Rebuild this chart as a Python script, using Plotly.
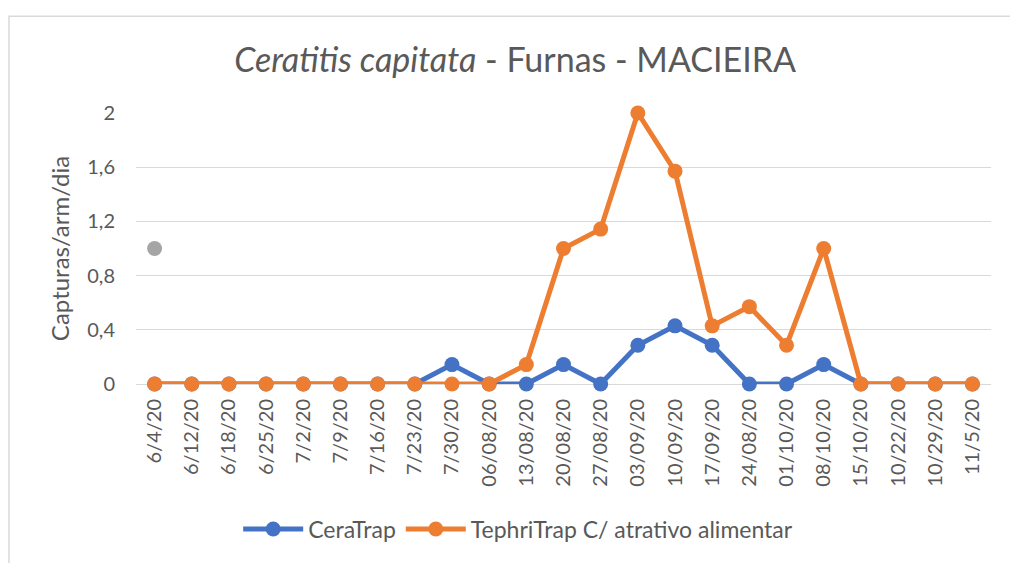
import plotly.graph_objects as go

categories = ["6/4/20", "6/12/20", "6/18/20", "6/25/20", "7/2/20", "7/9/20", "7/16/20",
              "7/23/20", "7/30/20", "06/08/20", "13/08/20", "20/08/20", "27/08/20",
              "03/09/20", "10/09/20", "17/09/20", "24/08/20", "01/10/20", "08/10/20",
              "15/10/20", "10/22/20", "10/29/20", "11/5/20"]
ceratrap = [0, 0, 0, 0, 0, 0, 0, 0, 0.143, 0, 0, 0.143, 0, 0.286, 0.429, 0.286,
            0, 0, 0.143, 0, 0, 0, 0]
tephritrap = [0, 0, 0, 0, 0, 0, 0, 0, 0, 0, 0.143, 1.0, 1.143, 2.0, 1.571, 0.429,
              0.571, 0.286, 1.0, 0, 0, 0, 0]
extra_x = ["6/4/20"]
extra_y = [1.0]
y_ticks = [0, 0.4, 0.8, 1.2, 1.6, 2]
y_tick_labels = ["0", "0,4", "0,8", "1,2", "1,6", "2"]

FONT = "Lato, 'Open Sans', sans-serif"
GREY_TXT = "#595959"

fig = go.Figure()
fig.add_trace(go.Scatter(x=categories, y=ceratrap, mode="lines+markers", name="CeraTrap",
                         line=dict(color="#4472C4", width=5),
                         marker=dict(size=15, color="#4472C4"), cliponaxis=False))
fig.add_trace(go.Scatter(x=categories, y=tephritrap, mode="lines+markers",
                         name="TephriTrap C/ atrativo alimentar",
                         line=dict(color="#ED7D31", width=5),
                         marker=dict(size=15, color="#ED7D31"), cliponaxis=False))
fig.add_trace(go.Scatter(x=extra_x, y=extra_y, mode="markers", showlegend=False,
                         marker=dict(size=15, color="#A5A5A5"), cliponaxis=False))

fig.update_layout(
    width=1010, height=563,
    margin=dict(l=136, r=19, t=113, b=174),
    paper_bgcolor="white", plot_bgcolor="white",
    font=dict(family=FONT, color=GREY_TXT),
    title=dict(text="<i>Ceratitis capitata</i> - Furnas - MACIEIRA",
               x=0.51, xanchor="center", y=0.893, yanchor="middle",
               font=dict(size=34, color=GREY_TXT, family=FONT)),
    legend=dict(orientation="h", x=0.447, xanchor="center", y=-0.535, yanchor="middle",
                font=dict(size=23, color=GREY_TXT), itemwidth=60,
                bgcolor="rgba(0,0,0,0)"),
    xaxis=dict(type="category", categoryorder="array", categoryarray=categories,
               tickangle=-90, tickfont=dict(size=20, color=GREY_TXT),
               showgrid=False, showline=False, ticks="", zeroline=False,
               ticklabelstandoff=10,
               range=[-0.5, len(categories) - 0.5]),
    yaxis=dict(range=[0, 2], tickvals=y_ticks, ticktext=y_tick_labels,
               tickfont=dict(size=20, color=GREY_TXT),
               showgrid=True, gridcolor="#D9D9D9", gridwidth=1.3,
               zeroline=True, zerolinecolor="#D9D9D9", zerolinewidth=1.3,
               showline=False, ticks="", ticklen=0, ticklabelstandoff=20,
               title=dict(text="Capturas/arm/dia", font=dict(size=24, color=GREY_TXT),
                          standoff=10)),
    shapes=[dict(type="rect", xref="paper", yref="paper",
                 x0=(9 - 136) / 855, x1=(1015 - 136) / 855,
                 y0=(389 - 575) / 276, y1=(389 - 14.5) / 276,
                 line=dict(color="#D9D9D9", width=1.5), fillcolor="rgba(0,0,0,0)",
                 layer="below")],
)

fig.write_html("out.html", config={"displayModeBar": False},
               post_script="document.body.style.margin='0';")
